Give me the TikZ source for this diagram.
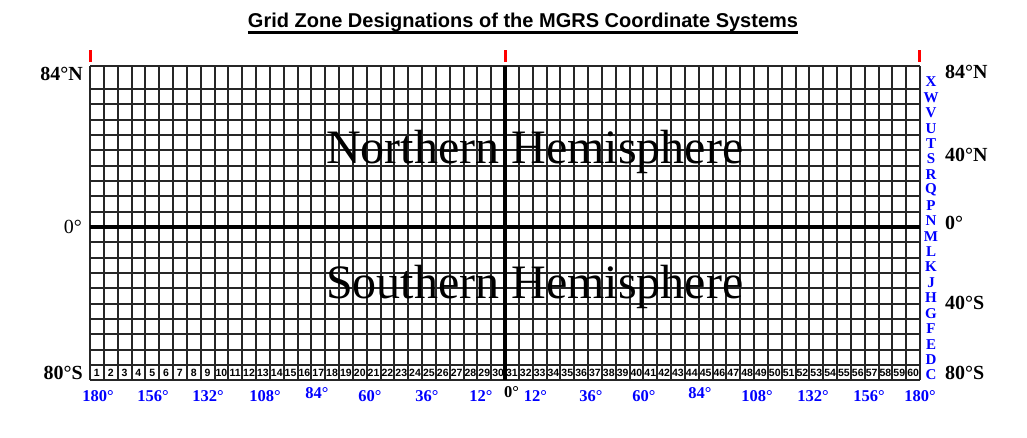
\documentclass[tikz,border=0pt]{standalone}
\usepackage{fontspec}
\setmainfont{Liberation Serif}
\newfontfamily\arialfont{Liberation Sans}

\begin{document}
\begin{tikzpicture}[
    x=1pt, y=-1pt,
    gridline/.style={line width=2pt, black!85},
    axisline/.style={line width=4pt, black},
    redtick/.style={line width=3pt, red},
    titletext/.style={font=\arialfont\fontsize{20}{20}\selectfont\bfseries, inner sep=0pt},
    hemitext/.style={font=\fontsize{48}{48}\selectfont, inner sep=0pt, anchor=base west},
    latlabel/.style={font=\fontsize{20}{20}\selectfont\bfseries, inner sep=0pt},
    bandlabel/.style={font=\fontsize{15}{15}\selectfont\bfseries, text=blue, inner sep=0pt},
    lonlabel/.style={font=\fontsize{16.5}{16.5}\selectfont\bfseries, text=blue, inner sep=0pt},
    zonenum/.style={font=\arialfont\fontsize{10.5}{10.5}\selectfont\bfseries, inner sep=0pt}
]
    \useasboundingbox (0,0) rectangle (1027,437);

    % 标题
    \node[titletext, anchor=base] (title) at (523,27) {Grid Zone Designations of the MGRS Coordinate Systems};
    \draw[line width=2.6pt] ([yshift=-1.3pt]title.south west) -- ([yshift=-1.3pt]title.south east);

    % 网格 (60列, 20行)
    \foreach \i in {0,...,60}
        \draw[gridline] ({90+\i*13.8333},66) -- ({90+\i*13.8333},380.3);
    \draw[gridline] (90,66) -- (920,66);
    \foreach \j in {0,...,19}
        \draw[gridline] (90,{89+\j*15.33}) -- (920,{89+\j*15.33});

    % 赤道与本初子午线
    \draw[axisline] (90,227) -- (920,227);
    \draw[axisline] (505,66) -- (505,380.3);

    % 红色标记
    \draw[redtick] (90,50) -- (90,62);
    \draw[redtick] (505,50) -- (505,62);
    \draw[redtick] (919,50) -- (919,62);

    % 半球文字
    \node[hemitext] (north) at (326,163) {Northern Hemisphere};
    \node[hemitext] (south) at (326,298) {Southern Hemisphere};

    % 纬度标注
    \node[latlabel, anchor=east] (lat84l) at (83,74) {84°N};
    \node[latlabel, anchor=east, font=\fontsize{20}{20}\selectfont] (lat0l) at (82,227) {0°};
    \node[latlabel, anchor=east] (lat80l) at (83,373) {80°S};
    \node[latlabel, anchor=west] (lat84r) at (945,72) {84°N};
    \node[latlabel, anchor=west] (lat40nr) at (945,155) {40°N};
    \node[latlabel, anchor=west] (lat0r) at (945,223) {0°};
    \node[latlabel, anchor=west] (lat40sr) at (945,303) {40°S};
    \node[latlabel, anchor=west] (lat80r) at (945,373) {80°S};

    % 纬度带字母
    \foreach \b [count=\i from 0] in {X,W,V,U,T,S,R,Q,P,N,M,L,K,J,H,G,F,E,D,C}
        \node[bandlabel] (band\b) at (931,{82+\i*15.42}) {\b};

    % 经度带编号
    \foreach \n in {1,...,60}
        \node[zonenum] (zone\n) at ({90+(\n-0.5)*13.8333},372.8) {\n};

    % 经度标注
    \foreach \x/\y/\t [count=\k] in {98/396/180,153/396/156,208/396/132,265/396/108,317/393/84,
                                     370/396/60,427/396/36,481/396/12,535.5/396/12,591/396/36,
                                     644/396/60,700/393/84,757/396/108,813/396/132,869/396/156,920/396/180}
        \node[lonlabel] (lon\k) at (\x,\y) {\t°};
    \node[lonlabel, text=black] (lon0) at (511.5,392) {0°};
\end{tikzpicture}
\end{document}
